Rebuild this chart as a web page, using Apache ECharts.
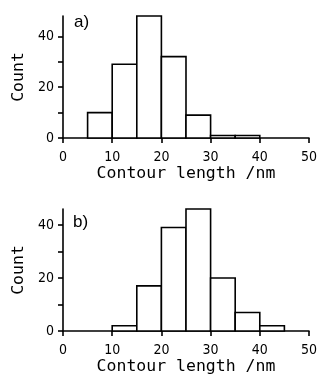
<!DOCTYPE html>
<html>
<head>
<meta charset="utf-8">
<script src="https://cdn.jsdelivr.net/npm/echarts@6/dist/echarts.min.js"></script>
<style>
  html, body { margin: 0; padding: 0; background: #fff; }
  #chart { width: 320px; height: 378px; }
</style>
</head>
<body>
<div id="chart"></div>
<script>
// histogram data, bins are 5 nm wide
const binWidth = 5;
const binStartsA = [5, 10, 15, 20, 25, 30, 35];
const countsA = [10, 29, 48, 32, 9, 1, 1];
const binStartsB = [10, 15, 20, 25, 30, 35, 40];
const countsB = [2, 17, 39, 46, 20, 7, 2];

const xTicks = [0, 10, 20, 30, 40, 50];
const yTicks = [0, 10, 20, 30, 40];
const yLabels = [0, 20, 40];
const panelLabels = ['a)', 'b)'];
const xName = 'Contour length /nm';
const yName = 'Count';

const monoFont = '"DejaVu Sans Mono", monospace';
const digitFont = '"Liberation Sans Narrow", "DejaVu Sans Condensed", sans-serif';

const toBins = (starts, counts) => starts.map((s, i) => [s, s + binWidth, counts[i]]);

const renderBar = (params, api) => {
  const p0 = api.coord([api.value(0), api.value(2)]);
  const p1 = api.coord([api.value(1), 0]);
  return {
    type: 'rect',
    shape: { x: p0[0], y: p0[1], width: p1[0] - p0[0], height: p1[1] - p0[1] },
    style: { fill: '#fff', stroke: '#000', lineWidth: 1.6 },
  };
};

const xAxisOf = (gridIndex) => ({
  type: 'value',
  gridIndex,
  min: 0,
  max: 50,
  interval: 10,
  splitLine: { show: false },
  axisLine: { show: true, onZero: false, lineStyle: { color: '#000', width: 1.6 } },
  axisTick: { show: true, length: 5, lineStyle: { color: '#000', width: 1.6 }, customValues: xTicks },
  axisLabel: { color: '#000', fontSize: 14, fontFamily: digitFont, margin: 12, customValues: xTicks },
  name: xName,
  nameLocation: 'middle',
  nameGap: 27,
  nameTextStyle: { color: '#000', fontSize: 16.5, fontFamily: monoFont },
});

const yAxisOf = (gridIndex, max) => ({
  type: 'value',
  gridIndex,
  min: 0,
  max,
  splitLine: { show: false },
  axisLine: { show: true, lineStyle: { color: '#000', width: 1.6 } },
  axisTick: { show: true, length: 5, lineStyle: { color: '#000', width: 1.6 }, customValues: yTicks },
  axisLabel: { color: '#000', fontSize: 14, fontFamily: digitFont, margin: 9, customValues: yLabels },
  name: yName,
  nameLocation: 'middle',
  nameGap: 29,
  nameTextStyle: { color: '#000', fontSize: 16.5, fontFamily: monoFont },
});

const chart = echarts.init(document.getElementById('chart'), null, { renderer: 'canvas' });

chart.setOption({
  backgroundColor: '#fff',
  animation: false,
  title: [
    { text: panelLabels[0], left: 74, top: 14, padding: 0,
      textStyle: { fontSize: 17, fontWeight: 'normal', color: '#000', fontFamily: 'Liberation Sans, Arial, sans-serif' } },
    { text: panelLabels[1], left: 73, top: 214, padding: 0,
      textStyle: { fontSize: 17, fontWeight: 'normal', color: '#000', fontFamily: 'Liberation Sans, Arial, sans-serif' } },
  ],
  grid: [
    { left: 63, right: 8, top: 16, height: 122 },
    { left: 63, right: 8, top: 209, height: 122 },
  ],
  xAxis: [xAxisOf(0), xAxisOf(1)],
  yAxis: [yAxisOf(0, 48), yAxisOf(1, 46)],
  series: [
    { type: 'custom', xAxisIndex: 0, yAxisIndex: 0, renderItem: renderBar, data: toBins(binStartsA, countsA) },
    { type: 'custom', xAxisIndex: 1, yAxisIndex: 1, renderItem: renderBar, data: toBins(binStartsB, countsB) },
  ],
});
</script>
</body>
</html>
